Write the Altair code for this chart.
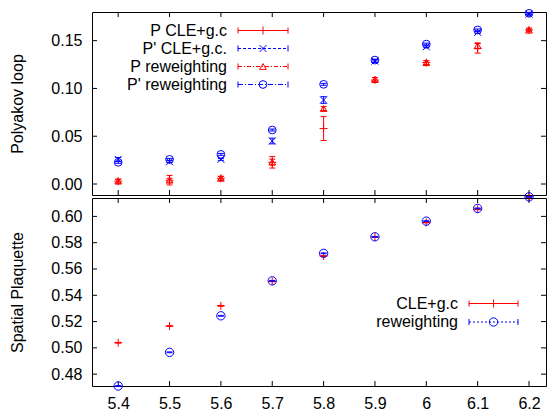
import altair as alt
import pandas as pd

# ---------------- data ----------------
beta = [5.4, 5.5, 5.6, 5.7, 5.8, 5.9, 6.0, 6.1, 6.2]

# Polyakov loop
p_cle = [0.003, 0.004, 0.006, 0.0227, 0.058, 0.1088, 0.127, 0.142, 0.1612]
p_cle_err = [0.002, 0.005, 0.002, 0.006, 0.0125, 0.0025, 0.002, 0.005, 0.002]
pp_cle = [0.0258, 0.0233, 0.0258, 0.045, 0.0879, 0.1286, 0.1436, 0.1587, 0.1778]
pp_cle_err = [0.002, 0.001, 0.001, 0.003, 0.0035, 0.0015, 0.001, 0.001, 0.001]
p_rw = [0.003, 0.004, 0.006, 0.023, 0.079, 0.1095, 0.127, 0.1447, 0.161]
p_rw_err = [0.002, 0.002, 0.002, 0.003, 0.002, 0.002, 0.002, 0.003, 0.001]
pp_rw = [0.0227, 0.0258, 0.031, 0.0565, 0.1043, 0.1297, 0.1464, 0.1612, 0.1786]
pp_rw_err = [0.001, 0.001, 0.001, 0.001, 0.001, 0.001, 0.001, 0.001, 0.001]

# Spatial plaquette
plaq_cle = [0.5039, 0.5166, 0.532, 0.5506, 0.5698, 0.5843, 0.5954, 0.6055, 0.6149]
plaq_cle_err = [0.0003, 0.0003, 0.0003, 0.0003, 0.0003, 0.0003, 0.0003, 0.0003, 0.0003]
plaq_rw = [0.471, 0.4966, 0.5244, 0.551, 0.5719, 0.5845, 0.5964, 0.6061, 0.6149]
plaq_rw_err = [0.0003, 0.0003, 0.0003, 0.0003, 0.0003, 0.0003, 0.0003, 0.0003, 0.0003]

legend_top = ["P CLE+g.c", "P' CLE+g.c.", "P reweighting", "P' reweighting"]
legend_bot = ["CLE+g.c", "reweighting"]

x_ticks = [5.4, 5.5, 5.6, 5.7, 5.8, 5.9, 6.0, 6.1, 6.2]
y_ticks_top = [0.0, 0.05, 0.10, 0.15]
y_ticks_bot = [0.48, 0.50, 0.52, 0.54, 0.56, 0.58, 0.60]

x_domain = [5.349, 6.2331]
y_domain_top = [-0.0115, 0.180]
y_domain_bot = [0.471, 0.614]

# ---------------- style ----------------
W, H1, H2 = 454, 183, 188
RED, BLUE = "#ff0000", "#0000ff"
FONT = "Liberation Sans"
PLUS = "M-1,0L1,0M0,-1L0,1"
CROSS = "M-1,-1L1,1M-1,1L1,-1"
CAP = "M-1,0L1,0"
TL = 5  # inward tick length

xsc = alt.Scale(domain=x_domain, nice=False, zero=False)
ysc_top = alt.Scale(domain=y_domain_top, nice=False, zero=False)
ysc_bot = alt.Scale(domain=y_domain_bot, nice=False, zero=False)

x_axis_top = None
x_axis_bot = alt.Axis(values=x_ticks, format="~g", ticks=False, tickSize=0,
                      domain=False, grid=False, title=None, labelPadding=9,
                      labelFontSize=16, labelFont=FONT, labelColor="black",
                      minExtent=0)
y_axis_top = alt.Axis(values=y_ticks_top, format=".2f", ticks=False, tickSize=0,
                      domain=False, grid=False, title="Polyakov loop",
                      labelPadding=10, labelFontSize=16, labelFont=FONT,
                      labelColor="black", titleFontSize=16, titleFont=FONT,
                      titleFontWeight="normal", titleColor="black", titleX=-67,
                      titleY=H1 / 2)
y_axis_bot = alt.Axis(values=y_ticks_bot, format=".2f", ticks=False, tickSize=0,
                      domain=False, grid=False, title="Spatial Plaquette",
                      labelPadding=10, labelFontSize=16, labelFont=FONT,
                      labelColor="black", titleFontSize=16, titleFont=FONT,
                      titleFontWeight="normal", titleColor="black", titleX=-67,
                      titleY=H2 / 2)


def series(vals, errs, color, shape, size, ysc, xax, yax):
    df = pd.DataFrame({
        "beta": beta,
        "val": vals,
        "lo": [v - e for v, e in zip(vals, errs)],
        "hi": [v + e for v, e in zip(vals, errs)],
    })
    base = alt.Chart(df)
    X = alt.X("beta:Q", scale=xsc, axis=xax)
    err = base.mark_rule(color=color, strokeWidth=1).encode(
        x=X, y=alt.Y("lo:Q", scale=ysc, axis=yax), y2="hi:Q")
    capl = base.mark_point(shape=CAP, size=36, color=color, strokeWidth=1,
                           filled=False, opacity=1).encode(
        x=X, y=alt.Y("lo:Q", scale=ysc, axis=yax))
    caph = base.mark_point(shape=CAP, size=36, color=color, strokeWidth=1,
                           filled=False, opacity=1).encode(
        x=X, y=alt.Y("hi:Q", scale=ysc, axis=yax))
    pt = base.mark_point(shape=shape, size=size, color=color, strokeWidth=1,
                         filled=False, opacity=1).encode(
        x=X, y=alt.Y("val:Q", scale=ysc, axis=yax))
    return [err, capl, caph, pt]


def frame_ticks(yticks, ysc, H, xax, yax):
    ydf = alt.Chart(pd.DataFrame({"v": yticks}))
    xdf = alt.Chart(pd.DataFrame({"u": x_ticks}))
    Y = alt.Y("v:Q", scale=ysc, axis=yax)
    X = alt.X("u:Q", scale=xsc, axis=xax)
    return [
        ydf.mark_rule(color="black", strokeWidth=1).encode(
            y=Y, x=alt.value(0), x2=alt.value(TL)),
        ydf.mark_rule(color="black", strokeWidth=1).encode(
            y=Y, x=alt.value(W - TL), x2=alt.value(W)),
        xdf.mark_rule(color="black", strokeWidth=1).encode(
            x=X, y=alt.value(0), y2=alt.value(TL)),
        xdf.mark_rule(color="black", strokeWidth=1).encode(
            x=X, y=alt.value(H - TL), y2=alt.value(H)),
    ]


def legend_entry(label, color, dash, shape, size, tx, x1, x2, y):
    one = alt.Chart(pd.DataFrame({"t": [label]}))
    layers = [
        one.mark_text(align="right", baseline="middle", fontSize=16, font=FONT,
                      color="black").encode(
            text="t:N", x=alt.value(tx), y=alt.value(y)),
    ]
    if dash:
        line = one.mark_rule(color=color, strokeWidth=1, strokeDash=dash)
    else:
        line = one.mark_rule(color=color, strokeWidth=1)
    layers.append(line.encode(x=alt.value(x1), x2=alt.value(x2), y=alt.value(y)))
    for xe in (x1, x2):
        layers.append(one.mark_rule(color=color, strokeWidth=1).encode(
            x=alt.value(xe), y=alt.value(y - 3), y2=alt.value(y + 3)))
    layers.append(one.mark_point(shape=shape, size=size, color=color,
                                 strokeWidth=1, filled=False, opacity=1).encode(
        x=alt.value((x1 + x2) / 2), y=alt.value(y)))
    return layers


# ---------------- top panel ----------------
top_layers = []
top_layers += frame_ticks(y_ticks_top, ysc_top, H1, x_axis_top, y_axis_top)
top_layers += series(p_cle, p_cle_err, RED, PLUS, 64, ysc_top, x_axis_top, y_axis_top)
top_layers += series(pp_cle, pp_cle_err, BLUE, CROSS, 49, ysc_top, x_axis_top, y_axis_top)
top_layers += series(p_rw, p_rw_err, RED, "triangle-up", 45, ysc_top, x_axis_top, y_axis_top)
top_layers += series(pp_rw, pp_rw_err, BLUE, "circle", 60, ysc_top, x_axis_top, y_axis_top)

top_styles = [
    (RED, None, PLUS, 64),
    (BLUE, [3, 2], CROSS, 49),
    (RED, [4, 2, 1, 2], "triangle-up", 45),
    (BLUE, [5, 2, 1, 2], "circle", 60),
]
for i, (lab, st) in enumerate(zip(legend_top, top_styles)):
    top_layers += legend_entry(lab, st[0], st[1], st[2], st[3],
                               135, 146, 196, 18.5 + 18 * i)

top = alt.layer(*top_layers).properties(width=W, height=H1)

# ---------------- bottom panel ----------------
bot_layers = []
bot_layers += frame_ticks(y_ticks_bot, ysc_bot, H2, x_axis_bot, y_axis_bot)
bot_layers += series(plaq_cle, plaq_cle_err, RED, PLUS, 64, ysc_bot, x_axis_bot, y_axis_bot)
bot_layers += series(plaq_rw, plaq_rw_err, BLUE, "circle", 70, ysc_bot, x_axis_bot, y_axis_bot)

bot_styles = [
    (RED, None, PLUS, 64),
    (BLUE, [2, 2], "circle", 70),
]
for i, (lab, st) in enumerate(zip(legend_bot, bot_styles)):
    bot_layers += legend_entry(lab, st[0], st[1], st[2], st[3],
                               366, 377, 426, 105.5 + 18.5 * i)

bottom = alt.layer(*bot_layers).properties(width=W, height=H2)

chart = (
    alt.vconcat(top, bottom, spacing=3, bounds="flush")
    .properties(autosize=alt.AutoSizeParams(type="none"),
                padding={"left": 84, "top": 4, "right": 1, "bottom": 398},
                background="white")
    .configure_view(stroke="black", strokeWidth=1)
)

chart.save("out.html", embed_options={"renderer": "svg", "actions": False})
